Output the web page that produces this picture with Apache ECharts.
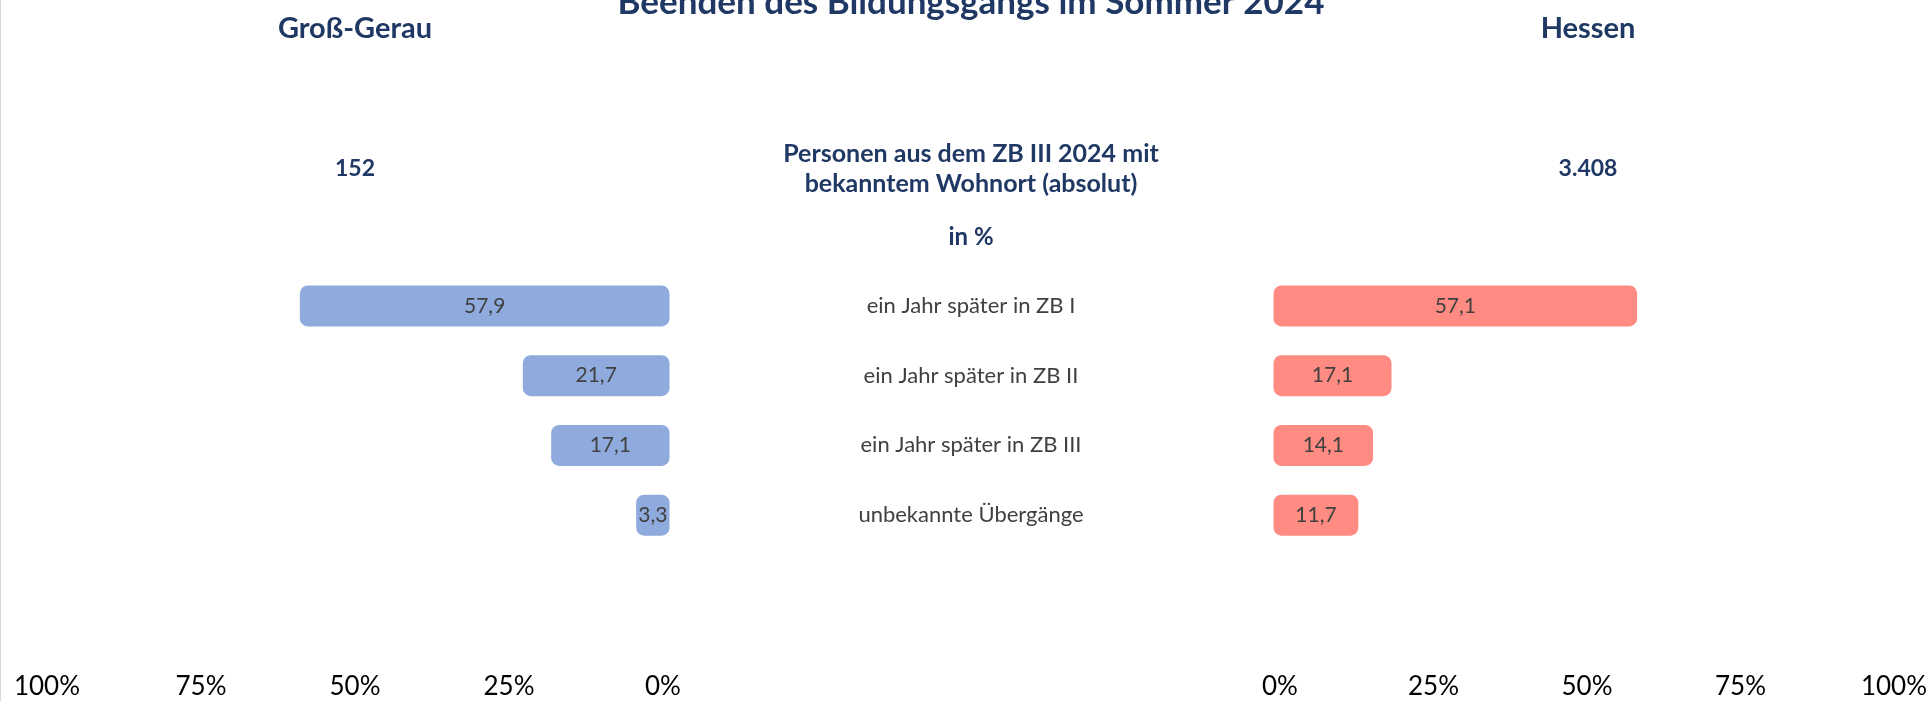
<!DOCTYPE html>
<html>
<head>
<meta charset="utf-8">
<script src="https://cdn.jsdelivr.net/npm/echarts@6/dist/echarts.min.js"></script>
<style>
  html, body { margin: 0; padding: 0; background: #fff; }
  #chart { width: 1932px; height: 701px; }
</style>
</head>
<body>
<div id="chart"></div>
<script>
  // Daten
  const categories = ['ein Jahr später in ZB I', 'ein Jahr später in ZB II', 'ein Jahr später in ZB III', 'unbekannte Übergänge']
  const grossGerau = [57.9, 21.7, 17.1, 3.3]
  const hessen = [57.1, 17.1, 14.1, 11.7]
  const regions = ['Groß-Gerau', 'Hessen']
  const totals = ['152', '3.408']

  const navy = '#1F3864'
  const font = 'Lato, "Open Sans", sans-serif'
  const fmt = v => String(v).replace('.', ',')

  const chart = echarts.init(document.getElementById('chart'))

  // Balken wie in Excel: abgerundet und an beiden Enden etwas ueberstehend
  const barSeries = (data, idx, color) => ({
    type: 'custom',
    xAxisIndex: idx,
    yAxisIndex: idx,
    silent: true,
    data: data.map((v, i) => [v, i]),
    encode: { x: 0, y: 1 },
    renderItem: (params, api) => {
      const val = api.value(0)
      const p0 = api.coord([0, api.value(1)])
      const p1 = api.coord([val, api.value(1)])
      const pad = 6.5
      const h = 41
      const x = Math.min(p0[0], p1[0]) - pad
      const w = Math.abs(p1[0] - p0[0]) + pad * 2
      return {
        type: 'rect',
        shape: { x: x, y: p0[1] - h / 2, width: w, height: h, r: 8 },
        style: { fill: color },
        textContent: {
          style: {
            text: fmt(val),
            fill: '#404040',
            font: '21px ' + font
          }
        },
        textConfig: { position: 'inside' }
      }
    }
  })

  const xAxisCfg = (idx, inverse) => ({
    type: 'value',
    gridIndex: idx,
    min: 0,
    max: 100,
    interval: 25,
    inverse: inverse,
    axisLine: { show: false },
    axisTick: { show: false },
    splitLine: { show: false },
    axisLabel: {
      formatter: '{value}%',
      color: '#000',
      fontFamily: font,
      fontSize: 26,
      margin: 124
    }
  })

  const text = (str, x, y, size, bold, color) => ({
    type: 'text',
    x: x,
    y: y,
    silent: true,
    style: {
      text: str,
      fill: color || navy,
      font: (bold ? 'bold ' : '') + size + 'px ' + font,
      textAlign: 'center',
      textVerticalAlign: 'middle'
    }
  })

  chart.setOption({
    animation: false,
    grid: [
      { left: 47, width: 616, top: 271, height: 279 },
      { left: 1280, width: 614, top: 271, height: 279 }
    ],
    xAxis: [xAxisCfg(0, true), xAxisCfg(1, false)],
    yAxis: [
      {
        type: 'category',
        gridIndex: 0,
        data: categories,
        inverse: true,
        position: 'right',
        axisLine: { show: false, onZero: false },
        axisTick: { show: false },
        axisLabel: {
          align: 'center',
          margin: 308,
          color: '#404040',
          fontFamily: font,
          fontSize: 22
        }
      },
      {
        type: 'category',
        gridIndex: 1,
        data: categories,
        inverse: true,
        show: false
      }
    ],
    series: [
      barSeries(grossGerau, 0, '#8FAADC'),
      barSeries(hessen, 1, '#FF8B82')
    ],
    graphic: [
      { type: 'line', shape: { x1: 0.5, y1: 0, x2: 0.5, y2: 701 }, style: { stroke: '#D9D9D9', lineWidth: 1 } },
      text('Beenden des Bildungsgangs im Sommer 2024', 971, 3, 35, true),
      text(regions[0], 355, 29, 29, true),
      text(regions[1], 1588, 29, 29, true),
      text(totals[0], 355, 169, 23, true),
      text(totals[1], 1588, 169, 23, true),
      text('Personen aus dem ZB III 2024 mit', 971, 154, 25, true),
      text('bekanntem Wohnort (absolut)', 971, 184, 25, true),
      text('in %', 971, 237, 24, true)
    ]
  })
</script>
</body>
</html>
